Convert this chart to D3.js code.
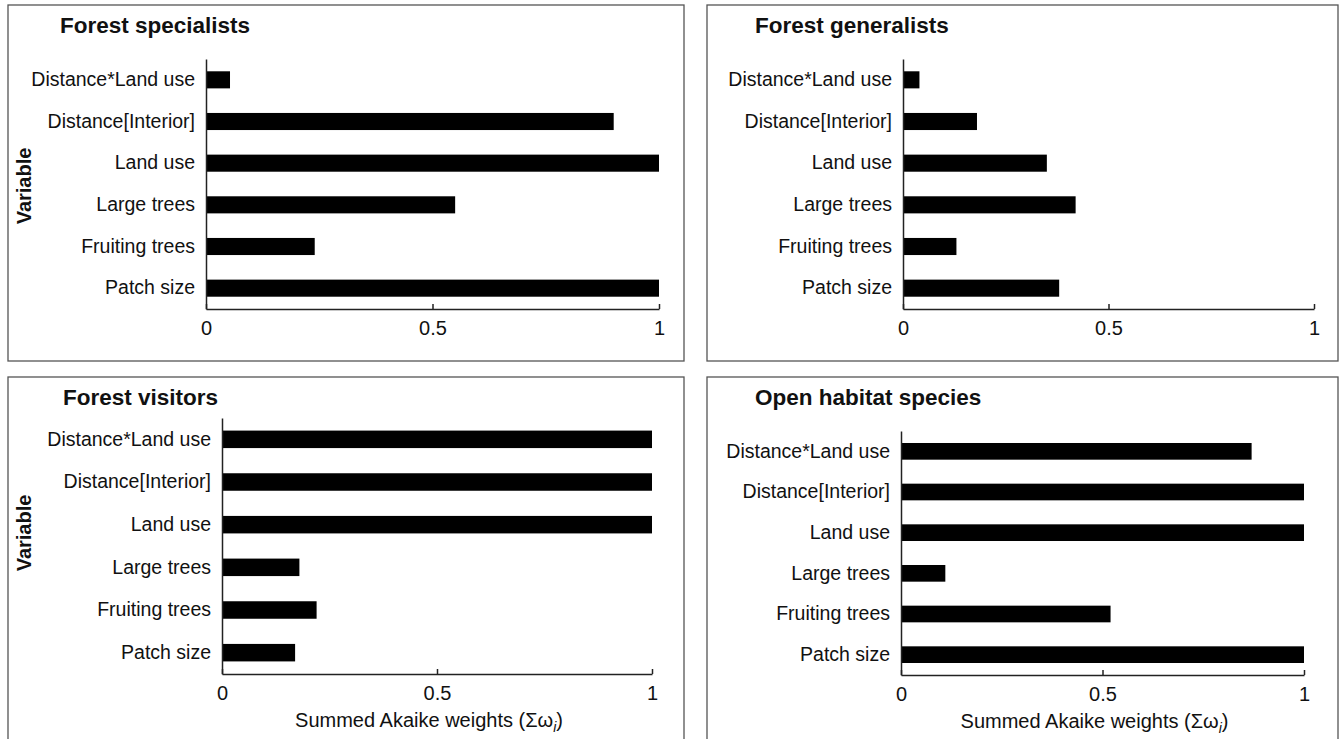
<!DOCTYPE html>
<html>
<head>
<meta charset="utf-8">
<script src="https://cdn.jsdelivr.net/npm/d3@7"></script>
<style>
  body { margin: 0; background: #fff; }
  text { font-family: "Liberation Sans", Arial, sans-serif; fill: #111; }
</style>
</head>
<body>
<script>
// variables, top to bottom as drawn
const variables = ["Distance*Land use", "Distance[Interior]", "Land use", "Large trees", "Fruiting trees", "Patch size"];

// summed Akaike weights per group
const specialists = [0.053, 0.90, 1.0, 0.55, 0.24, 1.0];
const generalists = [0.04, 0.18, 0.35, 0.42, 0.13, 0.38];
const visitors = [1.0, 1.0, 1.0, 0.18, 0.22, 0.17];
const openHabitat = [0.87, 1.0, 1.0, 0.11, 0.52, 1.0];

const xTicks = [0, 0.5, 1];
const titles = ["Forest specialists", "Forest generalists", "Forest visitors", "Open habitat species"];

var w = 1339, h = 739;

// panel layout: frame box, axis ranges, title position, which labels show
const panels = [
  { title: titles[0], values: specialists, box: [8, 5, 684, 361], xr: [206, 659], yr: [59, 309], tx: 60, ty: 33, yLab: 186, xLab: false },
  { title: titles[1], values: generalists, box: [707, 5, 1338, 361], xr: [903, 1314], yr: [59, 309], tx: 755, ty: 33, yLab: null, xLab: false },
  { title: titles[2], values: visitors, box: [8, 377, 684, 760], xr: [222, 652], yr: [418, 674], tx: 63, ty: 405, yLab: 533, xLab: true },
  { title: titles[3], values: openHabitat, box: [707, 377, 1338, 760], xr: [901, 1304], yr: [431, 675], tx: 755, ty: 405, yLab: null, xLab: true }
];

var svg = d3.select("body")
  .append("svg")
  .attr("width", w)
  .attr("height", h);

panels.forEach(function (p) {
  var g = svg.append("g");

  // frame
  g.append("rect")
    .attr("x", p.box[0])
    .attr("y", p.box[1])
    .attr("width", p.box[2] - p.box[0])
    .attr("height", p.box[3] - p.box[1])
    .attr("fill", "none")
    .attr("stroke", "#555")
    .attr("stroke-width", 1.3);

  var xScale = d3.scaleLinear()
    .domain([0, 1])
    .range(p.xr);

  var yScale = d3.scaleBand()
    .domain(variables)
    .range(p.yr)
    .paddingInner(0.59)
    .paddingOuter(0.295);

  // bars
  g.selectAll(".bar")
    .data(p.values)
    .enter()
    .append("rect")
    .attr("class", "bar")
    .attr("x", xScale(0))
    .attr("y", function (d, i) { return yScale(variables[i]); })
    .attr("width", function (d) { return xScale(d) - xScale(0); })
    .attr("height", yScale.bandwidth())
    .attr("fill", "#000");

  // x axis, ticks pointing up
  var xAxis = d3.axisBottom(xScale)
    .tickValues(xTicks)
    .tickFormat(d3.format("~g"))
    .tickSizeInner(-5)
    .tickSizeOuter(0)
    .tickPadding(12);

  var gx = g.append("g")
    .attr("transform", `translate(0,${p.yr[1]})`)
    .call(xAxis);
  gx.select(".domain").attr("stroke", "#222").attr("stroke-width", 1.5);
  gx.selectAll(".tick line").attr("stroke", "#222").attr("stroke-width", 1.5);
  gx.selectAll(".tick text").style("font-size", "20px").attr("fill", "#111");

  // y axis with category labels
  var yAxis = d3.axisLeft(yScale)
    .tickSize(0)
    .tickPadding(11);

  var gy = g.append("g")
    .attr("transform", `translate(${p.xr[0]},0)`)
    .call(yAxis);
  gy.select(".domain").attr("stroke", "#222").attr("stroke-width", 1.5);
  gy.selectAll(".tick text").style("font-size", "19.5px").attr("fill", "#111");

  // panel title
  g.append("text")
    .attr("x", p.tx)
    .attr("y", p.ty)
    .style("font-size", "22.5px")
    .style("font-weight", "bold")
    .text(p.title);

  if (p.yLab !== null) {
    g.append("text")
      .attr("transform", `translate(24,${p.yLab}) rotate(-90)`)
      .attr("text-anchor", "middle")
      .attr("dominant-baseline", "central")
      .style("font-size", "20px")
      .style("font-weight", "bold")
      .text("Variable");
  }

  if (p.xLab) {
    var t = g.append("text")
      .attr("x", xScale(0.5) - 8)
      .attr("y", p.yr[1] + 53)
      .attr("text-anchor", "middle")
      .style("font-size", "20px");
    t.append("tspan").text("Summed Akaike weights (Σω");
    t.append("tspan")
      .attr("dy", 5)
      .style("font-size", "14px")
      .style("font-style", "italic")
      .text("i");
    t.append("tspan").attr("dy", -5).text(")");
  }
});
</script>
</body>
</html>
